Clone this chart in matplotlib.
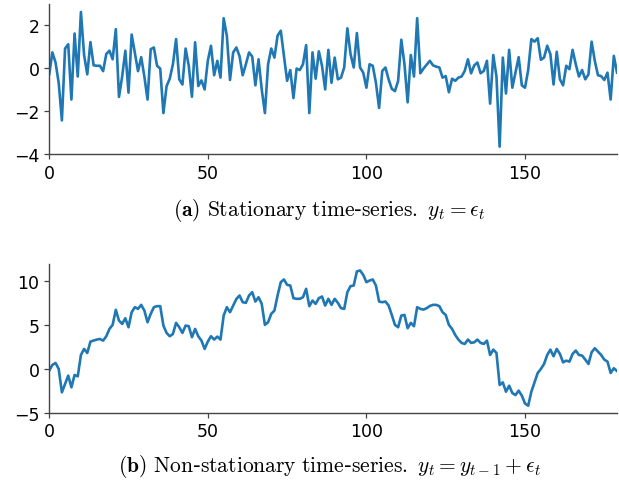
import matplotlib
matplotlib.use("Agg")
import matplotlib.pyplot as plt
import numpy as np

plt.rcParams['mathtext.fontset'] = 'cm'

stationary = [
    -0.3, 0.72, 0.25, -0.7, -2.44, 0.9, 1.1, -1.47, 1.6, -0.4,
    2.6, 0.6, -0.3, 1.2, 0.12, 0.1, 0.1, -0.15, 0.65, 0.8,
    0.4, 1.8, -1.35, -0.4, 0.8, -1.15, 1.55, 0.7, -0.15, 0.5,
    -0.4, -1.47, 0.87, 0.95, 0.1, -0.03, -2.1, -0.85, -0.5, 0.17,
    1.34, -0.53, -0.77, 0.9, 0.1, -1.34, 1.19, -0.84, -0.58, -1.0,
    0.33, 1.03, -0.34, 0.33, -0.45, 2.31, 1.5, -0.56, 0.72, 0.95,
    0.55, -0.34, 0.17, 0.72, 0.53, -0.81, 0.4, -1.0, -2.1, 0.17,
    0.9, 0.48, 1.5, 1.73, 0.56, -0.6, -0.1, -1.4, -0.03, -0.1,
    0.17, 1.06, -2.1, 0.72, -0.5, 0.77, 0.1, -1.0, 0.84, -0.69,
    0.48, -0.53, -0.45, 0.02, 1.84, 0.64, 0.02, 1.62, 0.02, -0.22,
    -0.92, 0.17, 0.1, -0.69, -1.86, -0.14, 0.02, -0.53, -0.97, -1.08,
    -0.6, 1.31, 0.17, -1.6, 0.6, -0.4, 2.31, -0.25, -0.03, 0.15,
    0.33, 0.12, 0.06, 0.02, -0.45, -0.38, -1.13, -0.5, -0.6, -0.45,
    -0.4, -0.14, 0.4, -0.25, 0.12, 0.25, -0.25, -0.14, 0.33, -1.66,
    0.6, -0.4, -3.66, 0.48, -1.19, 0.84, -0.92, -0.2, 0.5, -0.81,
    -0.92, -0.1, 1.34, 1.22, 1.38, 0.38, 0.48, 1.03, 0.64, -0.77,
    0.75, -0.53, -0.81, 0.1, -0.06, 0.84, 0.17, -0.4, -0.1, -0.53,
    -0.3, 1.22, 0.33, -0.34, -0.38, -0.56, -0.22, -1.47, 0.56, -0.22,
]

random_walk = [
    -0.19, 0.46, 0.69, 0.0, -2.67, -1.7, -0.76, -2.1, -0.69, -0.84,
    1.6, 2.29, 1.83, 3.13, 3.24, 3.36, 3.43, 3.24, 3.74, 4.58,
    5.04, 6.76, 5.53, 5.15, 5.8, 4.77, 6.49, 7.06, 6.87, 7.33,
    6.68, 5.34, 6.3, 7.06, 7.18, 7.18, 4.96, 4.12, 3.74, 4.0,
    5.27, 4.77, 4.12, 4.96, 4.89, 3.63, 4.58, 3.74, 3.24, 2.29,
    3.13, 3.74, 3.36, 3.7, 3.36, 6.1, 7.06, 6.49, 7.25, 8.0,
    8.4, 7.63, 7.56, 8.4, 8.78, 7.71, 8.2, 7.44, 5.04, 5.34,
    6.3, 6.68, 8.4, 9.92, 10.23, 9.62, 9.54, 8.09, 8.02, 8.02,
    8.2, 9.16, 7.18, 7.82, 7.44, 8.09, 8.28, 7.25, 8.02, 7.33,
    8.02, 7.56, 6.95, 6.87, 8.78, 9.47, 9.54, 11.15, 11.26, 10.76,
    9.92, 10.11, 10.23, 9.54, 7.71, 7.63, 7.71, 7.25, 6.18, 5.04,
    4.77, 6.1, 6.18, 4.66, 5.27, 4.89, 7.06, 6.87, 6.79, 6.95,
    7.2, 7.33, 7.33, 7.18, 6.49, 6.18, 5.04, 4.58, 3.89, 3.36,
    2.98, 2.86, 3.36, 2.98, 3.05, 3.36, 2.98, 2.86, 3.24, 1.6,
    2.21, 1.83, -1.83, -1.53, -2.6, -1.91, -2.75, -2.98, -2.48, -3.05,
    -3.95, -4.2, -2.6, -1.53, -0.46, 0.0, 0.57, 1.6, 2.21, 1.45,
    2.29, 1.72, 0.76, 0.95, 0.84, 1.72, 2.1, 1.6, 1.53, 1.07,
    0.57, 1.91, 2.37, 1.98, 1.6, 1.07, 0.84, -0.46, 0.08, -0.23,
]

xticks = [0, 50, 100, 150]
yticks_a = [-4, -2, 0, 2]
yticks_b = [-5, 0, 5, 10]
caption_a = r"$\mathbf{(a)}$ $\mathrm{Stationary\ time}$-$\mathrm{series.}\ y_t = \epsilon_t$"
caption_b = r"$\mathbf{(b)}$ $\mathrm{Non}$-$\mathrm{stationary\ time}$-$\mathrm{series.}\ y_t = y_{t-1} + \epsilon_t$"

W, H = 619, 485
fig = plt.figure(figsize=(W / 100, H / 100), dpi=100)

ax1 = fig.add_axes([49.2 / W, 1 - 155 / H, (617 - 49.2) / W, 150 / H])
ax2 = fig.add_axes([49.2 / W, 1 - 413.7 / H, (617 - 49.2) / W, 148.7 / H])

line_color = '#1f77b4'
spine_color = '#444444'

for ax, data, yt in [(ax1, stationary, yticks_a), (ax2, random_walk, yticks_b)]:
    x = np.arange(len(data))
    ax.plot(x, data, color=line_color, lw=1.9)
    ax.set_xlim(0, len(data) - 1)
    ax.set_xticks(xticks)
    ax.set_yticks(yt)
    for s in ['top', 'right']:
        ax.spines[s].set_visible(False)
    for s in ['left', 'bottom']:
        ax.spines[s].set_color(spine_color)
        ax.spines[s].set_linewidth(1.0)
    ax.tick_params(colors=spine_color, labelcolor='black', labelsize=12.5, length=3.5, width=0.9)

ax1.set_ylim(-4.0, 2.97)
ax2.set_ylim(-5.0, 12.0)

fig.text(0.532, 1 - 210 / H, caption_a, ha='center', va='center', fontsize=15.5)
fig.text(0.532, 1 - 467 / H, caption_b, ha='center', va='center', fontsize=15.5)

fig.savefig('out.png', dpi=100)
